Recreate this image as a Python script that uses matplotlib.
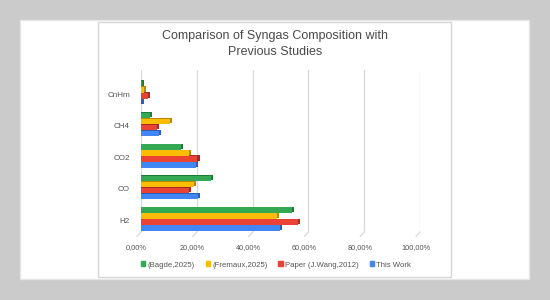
import numpy as np
import matplotlib.pyplot as plt
from matplotlib.patches import Rectangle
from matplotlib.transforms import ScaledTranslation

plt.rcParams['font.family'] = ['Liberation Sans', 'DejaVu Sans']

# categories bottom to top
categories = ['H2', 'CO', 'CO2', 'CH4', 'CnHm']
series_names = ['(Bagde,2025)', '(Fremaux,2025)', 'Paper (J.Wang,2012)', 'This Work']
bagde = [54.5, 25.3, 14.5, 3.6, 0.6]
fremaux = [49.0, 19.2, 17.6, 10.7, 1.3]
wang = [56.5, 17.5, 20.5, 6.0, 2.9]
this_work = [50.2, 20.6, 20.0, 6.8, 0.4]
xticks = [0, 20, 40, 60, 80, 100]
xticklabels = ['0,00%', '20,00%', '40,00%', '60,00%', '80,00%', '100,00%']

colors = ['#34a853', '#fbbc04', '#ea4335', '#4285f4']
shadows = ['#1e7a38', '#b98a00', '#a82a20', '#2a5fb8']

fig = plt.figure(figsize=(5.5, 3.0), dpi=100)
fig.patch.set_facecolor('#cbcbcb')
W, H = 550, 300
fig.patches.append(Rectangle((20 / W, 1 - 279 / H), 509 / W, 259 / H,
                             transform=fig.transFigure, facecolor='white',
                             edgecolor='#e6e6e6', lw=1, zorder=-2))
fig.patches.append(Rectangle((98 / W, 1 - 277 / H), 353 / W, 255 / H,
                             transform=fig.transFigure, facecolor='none',
                             edgecolor='#d6d6d6', lw=1, zorder=-1))

ax = fig.add_axes([141 / W, 1 - 232 / H, 279 / W, 162 / H])
ax.set_facecolor('none')
ax.set_zorder(2)

y = np.arange(len(categories))
offsets = [0.285, 0.095, -0.095, -0.285]
bh = 0.165
for vals, off, c, sc in zip([bagde, fremaux, wang, this_work], offsets, colors, shadows):
    ax.barh(y + off + 0.03, np.array(vals) + 0.5, height=bh, left=0, color=sc, zorder=2)
    ax.barh(y + off, vals, height=bh, left=-0.3, color=c, zorder=3)

ax.set_xlim(0, 100)
ax.set_ylim(-0.41, 4.73)
for t in xticks:
    ax.axvline(t, color='#d9d9d9', lw=0.9, zorder=1)
    ax.plot([t, t - 1.4], [-0.41, -0.55], color='#d9d9d9', lw=0.9, clip_on=False)

ax.set_xticks(xticks)
ax.set_xticklabels(xticklabels, fontsize=5.3, color='#555555')
ax.tick_params(axis='x', length=0, pad=9)
for lbl in ax.get_xticklabels():
    lbl.set_transform(lbl.get_transform() + ScaledTranslation(-4.5 / 100, 0, fig.dpi_scale_trans))

ax.set_yticks(y - 0.04)
ax.set_yticklabels(categories, fontsize=5.9, color='#555555')
ax.tick_params(axis='y', length=0, pad=8)
for s in ax.spines.values():
    s.set_visible(False)

fig.text(275 / W, 1 - 36 / H, 'Comparison of Syngas Composition with', ha='center',
         va='center', fontsize=9, color='#4a4a4a')
fig.text(275 / W, 1 - 52 / H, 'Previous Studies', ha='center', va='center',
         fontsize=9, color='#4a4a4a')

handles = [Rectangle((0, 0), 1, 1, color=c) for c in colors]
fig.legend(handles, series_names, loc='center', bbox_to_anchor=(276 / W, 1 - 265 / H),
           ncol=4, frameon=False, fontsize=5.6, labelcolor='#555555',
           handlelength=0.55, handleheight=0.55, handletextpad=0.3, columnspacing=1.4)

fig.savefig('out.png', dpi=100, facecolor=fig.get_facecolor())
